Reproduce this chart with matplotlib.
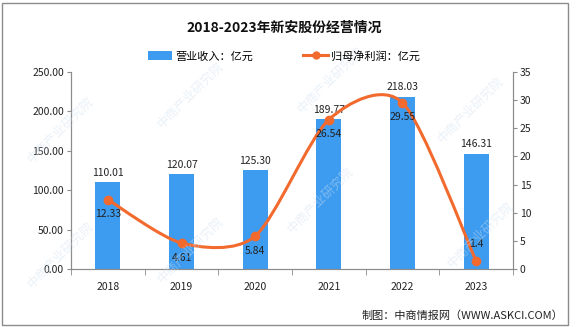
import numpy as np
import matplotlib
matplotlib.use('Agg')
import matplotlib.pyplot as plt
from matplotlib.path import Path
from matplotlib.patches import PathPatch, Rectangle, Patch
from matplotlib.lines import Line2D

plt.rcParams['font.family'] = ['Noto Sans CJK SC', 'DejaVu Sans']

# data
years = ['2018', '2019', '2020', '2021', '2022', '2023']
revenue = [110.01, 120.07, 125.30, 189.77, 218.03, 146.31]
profit = [12.33, 4.61, 5.84, 26.54, 29.55, 1.4]
profit_labels = ['12.33', '4.61', '5.84', '26.54', '29.55', '1.4']

bar_color = '#3D9BF0'
line_color = '#F26A2E'
grey = '#8c8c8c'

fig = plt.figure(figsize=(5.81, 3.27), dpi=100)
ax = fig.add_axes([71/581, 1 - 269/327, (513-71)/581, (269-72)/327])
ax2 = ax.twinx()

x = np.arange(len(years))
ax.bar(x, revenue, width=0.34, color=bar_color, zorder=2)
for xi, v in zip(x, revenue):
    ax.text(xi, v + 6, f'{v:.2f}', ha='center', va='bottom', fontsize=7.5, color='#222222')

ax.set_xlim(-0.5, 5.5)
ax.set_ylim(0, 250)
ax.set_yticks(np.arange(0, 251, 50))
ax.set_yticklabels([f'{v:.2f}' for v in np.arange(0, 251, 50)])
ax.set_xticks(x)
ax.set_xticklabels(years)
ax.set_xticks(np.arange(-0.5, 6, 1), minor=True)
ax.tick_params(axis='x', which='major', length=0, pad=9, labelsize=7.5, colors='#222222')
ax.tick_params(axis='x', which='minor', length=4, color=grey)
ax.tick_params(axis='y', length=3, color=grey, labelsize=7.5, labelcolor='#222222', pad=2)

ax2.set_ylim(0, 35)
ax2.set_yticks(np.arange(0, 36, 5))
ax2.tick_params(axis='y', length=3, color=grey, labelsize=7.5, labelcolor='#222222', pad=2)

for a in (ax, ax2):
    a.spines['top'].set_visible(False)
    for s in ('left', 'right', 'bottom'):
        a.spines[s].set_color(grey)
        a.spines[s].set_linewidth(0.8)

# smooth line (cardinal spline drawn as bezier segments)
pts = np.column_stack([x, profit]).astype(float)
verts = [tuple(pts[0])]
codes = [Path.MOVETO]
n = len(pts)
k = 7.5
for i in range(n - 1):
    p0 = pts[max(i - 1, 0)]
    p1 = pts[i]
    p2 = pts[i + 1]
    p3 = pts[min(i + 2, n - 1)]
    c1 = p1 + (p2 - p0) / k
    c2 = p2 - (p3 - p1) / k
    verts += [tuple(c1), tuple(c2), tuple(p2)]
    codes += [Path.CURVE4] * 3
ax2.add_patch(PathPatch(Path(verts, codes), fill=False, edgecolor=line_color, lw=2.2, zorder=3))
ax2.plot(x, profit, 'o', color=line_color, ms=6, zorder=4)

for xi, v, lab in zip(x, profit, profit_labels):
    if lab == '1.4':
        ax2.text(xi, v + 2.2, lab, ha='center', va='bottom', fontsize=7.5, color='#222222', zorder=5)
    else:
        ax2.text(xi, v - 1.7, lab, ha='center', va='top', fontsize=7.5, color='#222222', zorder=5)

# title and legend
fig.text(284/581, 1 - 28/327, '2018-2023年新安股份经营情况', ha='center', va='center',
         fontsize=10, fontweight='bold', color='#111111')
handles = [Patch(facecolor=bar_color, edgecolor='none'),
           Line2D([0], [0], color=line_color, lw=2.2, marker='o', ms=5)]
fig.legend(handles, ['营业收入：亿元', '归母净利润：亿元'], loc='center',
           bbox_to_anchor=(284/581, 1 - 56/327), ncol=2, frameon=False, fontsize=8,
           handlelength=2.2, handleheight=0.9, columnspacing=4.5, handletextpad=0.3)

# source
fig.text(563/581, 1 - 316/327, '制图：中商情报网（WWW.ASKCI.COM）', ha='right', va='center',
         fontsize=8, color='#222222')

# watermark
for wx, wy in [(60, 130), (60, 255), (190, 95), (190, 250), (330, 80), (320, 200),
               (470, 110), (480, 235)]:
    fig.text(wx/581, 1 - wy/327, '中商产业研究院', rotation=45, ha='center', va='center',
             fontsize=9, color='#cfe0ef', alpha=0.45, zorder=0)

# border
fig.patches.append(Rectangle((2/581, 2/327), 566/581, 322/327, transform=fig.transFigure,
                             fill=False, edgecolor=grey, lw=1.0))

fig.savefig('out.png', dpi=100)
